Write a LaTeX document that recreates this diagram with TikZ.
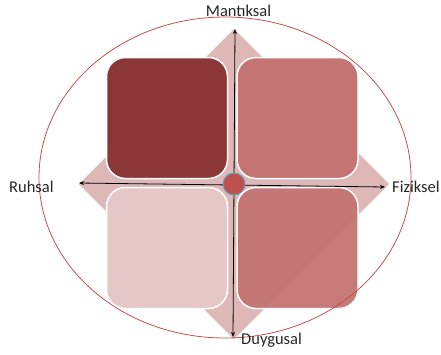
\documentclass[tikz,border=0pt]{standalone}
\usepackage{fontspec}
\setmainfont{Carlito}
\usetikzlibrary{arrows.meta}
\definecolor{diamc}{HTML}{DDB8B7}
\definecolor{darkred}{HTML}{8B3737}
\definecolor{midred}{HTML}{C47472}
\definecolor{lightred}{HTML}{E5C7C7}
\definecolor{ringred}{HTML}{C0504D}
\definecolor{teal}{HTML}{4BACC6}
\tikzset{
  box/.style={draw=white, line width=1.5pt, rounded corners=19pt, minimum width=121pt, minimum height=121pt, inner sep=0pt},
  axis/.style={draw=black, line width=0.8pt, {Stealth[length=5pt,width=4pt]}-{Stealth[length=5pt,width=4pt]}},
  lab/.style={font=\fontsize{16.5}{18}\selectfont, inner sep=0pt, text=black!85},
}
\begin{document}
\begin{tikzpicture}[x=1pt,y=-1pt]
\useasboundingbox (0,0) rectangle (441,354);
% background diamond
\fill[diamc] (234,29) -- (389,184) -- (234,339) -- (79,184) -- cycle;
% quadrant boxes
\node[box, fill=darkred] (tl) at (167,118) {};
\node[box, fill=midred] (tr) at (297.5,118) {};
\node[box, fill=lightred] (bl) at (167,248) {};
\node[box, fill=midred, fill opacity=0.95] (br) at (297.5,248) {};
% axes
\coordinate (vt) at (235,29);
\coordinate (vb) at (233,337);
\coordinate (hl) at (79,183);
\coordinate (hr) at (385,187);
\draw[axis] (vb) -- (vt);
\draw[axis] (hl) -- (hr);
% centre
\node[circle, fill=ringred, draw=teal, line width=0.8pt, minimum size=22pt, inner sep=0pt] (c) at (234,184) {};
% outer ellipse
\draw[ringred, line width=0.8pt] (225,177.5) ellipse [x radius=186, y radius=160.5];
% labels
\node[lab] (m) at (238.5,11) {Mantıksal};
\node[lab, anchor=west] (f) at (392,187) {Fiziksel};
\node[lab, anchor=west] (r) at (9,187) {Ruhsal};
\node[lab, anchor=west] (d) at (241,340) {Duygusal};
\end{tikzpicture}
\end{document}
